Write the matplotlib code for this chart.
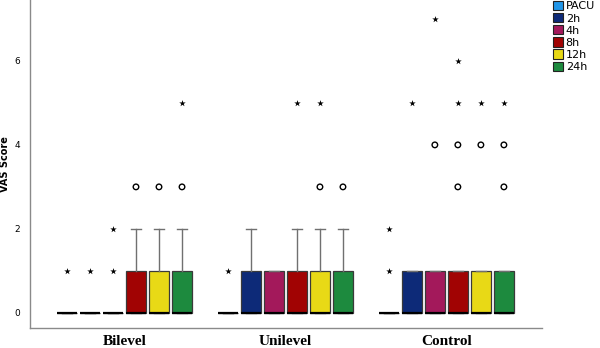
import matplotlib

matplotlib.use("Agg")
import matplotlib.pyplot as plt
from matplotlib.patches import Patch

groups = ["Bilevel", "Unilevel", "Control"]
times = ["PACU", "2h", "4h", "8h", "12h", "24h"]
colors = ["#2196e8", "#0d2a78", "#a3195b", "#a10303", "#e8d916", "#1d8a3e"]

# box stats per group, one value per time point
q1 = [[0, 0, 0, 0, 0, 0], [0, 0, 0, 0, 0, 0], [0, 0, 0, 0, 0, 0]]
med = [[0, 0, 0, 0, 0, 0], [0, 0, 0, 0, 0, 0], [0, 0, 0, 0, 0, 0]]
q3 = [[0, 0, 0, 1, 1, 1], [0, 1, 1, 1, 1, 1], [0, 1, 1, 1, 1, 1]]
whis_hi = [[0, 0, 0, 2, 2, 2], [0, 2, 1, 2, 2, 2], [0, 1, 1, 1, 1, 1]]

# outliers (circles) and extremes (stars)
circles = [
    [[], [], [], [3], [3], [3]],
    [[], [], [], [], [3], [3]],
    [[], [], [4], [3, 4], [4], [3, 4]],
]
stars = [
    [[1], [1], [1, 2], [], [], [5]],
    [[1], [], [], [5], [5], []],
    [[1, 2], [5], [7], [5, 6], [5], [5]],
]

step = 0.143
width = 0.124

fig = plt.figure(figsize=(6.0, 3.48), dpi=100)
ax = fig.add_axes([0.05, 0.0575, 0.853, 0.9425])

for g in range(len(groups)):
    for t in range(len(times)):
        pos = g + (t - 2.5) * step
        stats = [{
            "med": med[g][t], "q1": q1[g][t], "q3": q3[g][t],
            "whislo": q1[g][t], "whishi": whis_hi[g][t], "fliers": [],
        }]
        ax.bxp(stats, positions=[pos], widths=width, patch_artist=True,
               showfliers=False, manage_ticks=False,
               boxprops=dict(facecolor=colors[t], edgecolor="#3a3a3a", linewidth=0.9),
               medianprops=dict(color="black", linewidth=1.6),
               whiskerprops=dict(color="#707070", linewidth=1.0),
               capprops=dict(color="#707070", linewidth=1.0),
               capwidths=width * 0.5)
        c = circles[g][t]
        if c:
            ax.scatter([pos] * len(c), c, s=16, facecolors="none",
                       edgecolors="black", linewidths=1.0, zorder=3)
        s = stars[g][t]
        if s:
            ax.scatter([pos] * len(s), s, marker="*", s=24, color="black",
                       linewidths=0, zorder=3)

ax.set_xlim(-0.587, 2.593)
ax.set_ylim(-0.36, 7.45)
ax.set_xticks(range(len(groups)))
ax.set_xticklabels(groups, fontsize=11, fontweight="bold", family="Liberation Serif")
ax.set_yticks([0, 2, 4, 6])
ax.tick_params(axis="y", length=0, labelsize=6.5, pad=7)
ax.tick_params(axis="x", length=0, pad=5)
ax.set_ylabel("VAS Score", fontsize=7, fontweight="bold", labelpad=3)
for side in ["top", "right"]:
    ax.spines[side].set_visible(False)
for side in ["left", "bottom"]:
    ax.spines[side].set_color("#8a8a8a")
    ax.spines[side].set_linewidth(1.0)

handles = [Patch(facecolor=c, edgecolor="#222222", linewidth=0.8) for c in colors]
fig.legend(handles, times, loc="upper left", bbox_to_anchor=(0.915, 1.01),
           frameon=False, fontsize=8, handlelength=0.9, handleheight=0.9,
           handletextpad=0.2, labelspacing=0.15, borderaxespad=0)

fig.savefig("out.png", dpi=100)
